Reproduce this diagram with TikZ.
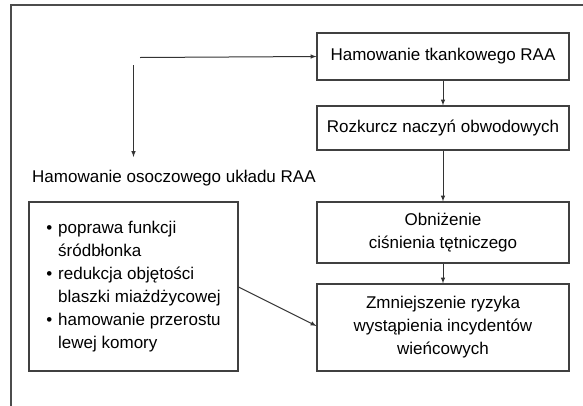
\documentclass[tikz,border=0pt]{standalone}
\usepackage{fontspec}
\setmainfont{Liberation Sans}
\usetikzlibrary{arrows}
\usetikzlibrary{shapes}

\begin{document}
\begin{tikzpicture}[x = 1pt, y = -1pt]
\tikzstyle{boxStyle} = [draw = black!75, line width = 1.1pt, minimum width = 252pt, inner sep = 0pt, align = center, font = \fontsize{17}{23}\selectfont]
\tikzstyle{arrowStyle} = [draw = black!80, line width = 1pt, -latex]
\tikzstyle{plainStyle} = [font = \fontsize{17}{23}\selectfont, inner sep = 0pt]
\useasboundingbox (0,0) rectangle (583,405);
\draw[black!70, line width = 1.1pt] (11,420) -- (11,5) -- (600,5);
\node[boxStyle, minimum height = 47pt] (tkank) at (443,56.5) {Hamowanie tkankowego RAA};
\node[boxStyle, minimum height = 44pt] (rozk) at (443,128) {Rozkurcz naczyń obwodowych};
\node[boxStyle, minimum height = 61pt] (obniz) at (443,232.5) {Obniżenie\\ciśnienia tętniczego};
\node[boxStyle, minimum height = 87pt] (ryzyko) at (443,327.5) {Zmniejszenie ryzyka\\wystąpienia incydentów\\wieńcowych};
\node[plainStyle, anchor = west] (osocz) at (32,178) {Hamowanie osoczowego układu RAA};
\node[boxStyle, minimum width = 209pt, minimum height = 169pt] (efekty) at (133.5,286.5) {%
\begin{tabular}{@{}l@{\hspace{6pt}}l@{}}
\textbullet & poprawa funkcji\\
 & śródbłonka\\
\textbullet & redukcja objętości\\
 & blaszki miażdżycowej\\
\textbullet & hamowanie przerostu\\
 & lewej komory
\end{tabular}};
\coordinate (start) at (140,57.5);
\coordinate (pion) at (133.5,65);
\coordinate (koniec) at (133.5,157);
\draw[arrowStyle] (start) -- (tkank.west);
\draw[arrowStyle] (pion) -- (koniec);
\draw[arrowStyle] (tkank) -- (rozk);
\draw[arrowStyle] (rozk) -- (obniz);
\draw[arrowStyle] (obniz) -- (ryzyko);
\draw[arrowStyle] (efekty.east |- 0,287) -- (ryzyko.west |- 0,326);
\end{tikzpicture}
\end{document}
